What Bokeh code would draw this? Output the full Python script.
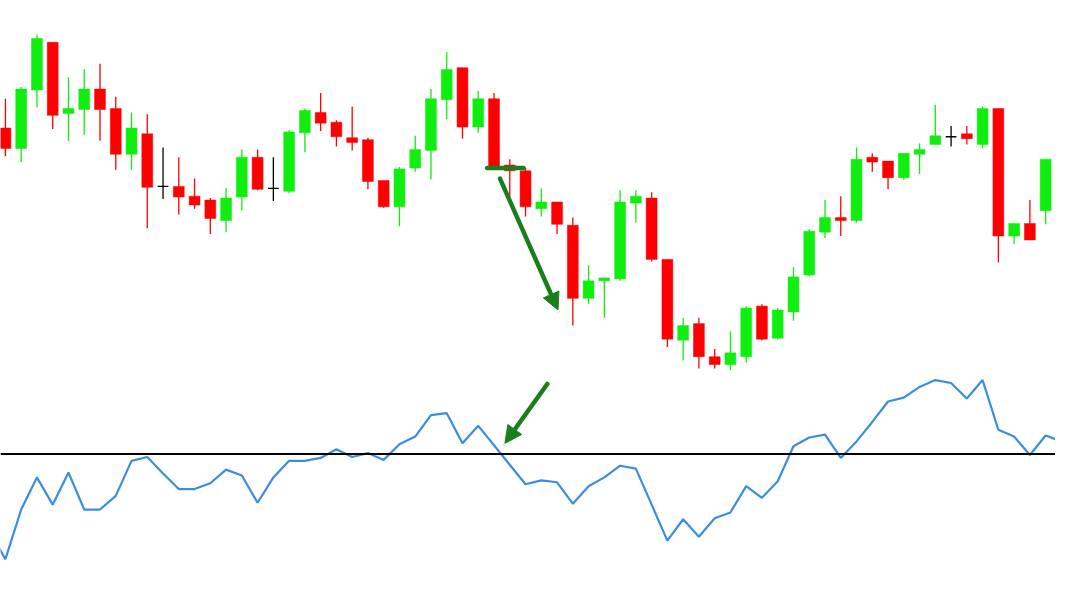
from bokeh.plotting import figure
from bokeh.models import ColumnDataSource, Range1d, Span, Arrow, NormalHead
from bokeh.embed import file_html
from bokeh.resources import INLINE

# ---- price data (one candle per bar) ----
opens = [1.3169, 1.3148, 1.3208, 1.3257, 1.3184, 1.3188, 1.3209, 1.3189, 1.3142, 1.3163,
         1.3109, 1.3109, 1.3099, 1.3095, 1.3074, 1.3098, 1.3139, 1.3107, 1.3104, 1.3164,
         1.3185, 1.3175, 1.3159, 1.3157, 1.3115, 1.3088, 1.3128, 1.3146, 1.3198, 1.3231,
         1.3170, 1.3199, 1.3131, 1.3125, 1.3086, 1.3093, 1.3069, 1.2994, 1.3012, 1.3014,
         1.3092, 1.3097, 1.3034, 1.2951, 1.2968, 1.2934, 1.2926, 1.2934, 1.2986, 1.2953,
         1.2980, 1.3018, 1.3062, 1.3077, 1.3074, 1.3139, 1.3135, 1.3118, 1.3142, 1.3152,
         1.3160, 1.3163, 1.3152, 1.3189, 1.3058, 1.3071, 1.3084]
highs = [1.3199, 1.3211, 1.3265, 1.3257, 1.3221, 1.3229, 1.3235, 1.3201, 1.3185, 1.3183,
         1.3149, 1.3139, 1.3117, 1.3097, 1.3107, 1.3147, 1.3147, 1.3139, 1.3167, 1.3189,
         1.3205, 1.3177, 1.3191, 1.3159, 1.3115, 1.3129, 1.3161, 1.3209, 1.3247, 1.3231,
         1.3207, 1.3205, 1.3137, 1.3128, 1.3107, 1.3093, 1.3077, 1.3028, 1.3015, 1.3105,
         1.3105, 1.3103, 1.3034, 1.2974, 1.2974, 1.2942, 1.2960, 1.2986, 1.2988, 1.2984,
         1.3026, 1.3065, 1.3095, 1.3099, 1.3149, 1.3143, 1.3135, 1.3143, 1.3153, 1.3193,
         1.3171, 1.3171, 1.3191, 1.3189, 1.3071, 1.3095, 1.3137]
lows = [1.3140, 1.3134, 1.3190, 1.3168, 1.3156, 1.3162, 1.3156, 1.3126, 1.3126, 1.3066,
        1.3096, 1.3080, 1.3086, 1.3060, 1.3062, 1.3084, 1.3105, 1.3094, 1.3102, 1.3144,
        1.3166, 1.3150, 1.3146, 1.3106, 1.3087, 1.3068, 1.3124, 1.3116, 1.3178, 1.3158,
        1.3164, 1.3129, 1.3098, 1.3078, 1.3078, 1.3060, 1.2966, 1.2988, 1.2974, 1.3012,
        1.3072, 1.3032, 1.2944, 1.2930, 1.2922, 1.2922, 1.2920, 1.2928, 1.2951, 1.2952,
        1.2971, 1.3017, 1.3056, 1.3058, 1.3072, 1.3124, 1.3106, 1.3116, 1.3122, 1.3152,
        1.3150, 1.3152, 1.3148, 1.3031, 1.3050, 1.3054, 1.3070]
closes = [1.3148, 1.3209, 1.3261, 1.3182, 1.3189, 1.3209, 1.3188, 1.3142, 1.3169, 1.3108,
          1.3109, 1.3098, 1.3090, 1.3076, 1.3097, 1.3139, 1.3106, 1.3107, 1.3165, 1.3187,
          1.3174, 1.3160, 1.3154, 1.3114, 1.3088, 1.3127, 1.3147, 1.3199, 1.3229, 1.3170,
          1.3199, 1.3130, 1.3125, 1.3088, 1.3093, 1.3070, 1.2994, 1.3012, 1.3015, 1.3093,
          1.3099, 1.3034, 1.2952, 1.2966, 1.2934, 1.2926, 1.2938, 1.2984, 1.2952, 1.2982,
          1.3016, 1.3063, 1.3077, 1.3074, 1.3137, 1.3134, 1.3118, 1.3143, 1.3147, 1.3161,
          1.3160, 1.3158, 1.3189, 1.3058, 1.3071, 1.3054, 1.3137]

# ---- momentum indicator (bars -1 .. 67) ----
mom_start = -1
momentum = [99.21, 98.92, 99.43, 99.76, 99.48, 99.81, 99.43, 99.43, 99.57, 99.93,
            99.97, 99.80, 99.64, 99.64, 99.70, 99.84, 99.78, 99.50, 99.76, 99.93,
            99.93, 99.96, 100.05, 99.97, 100.01, 99.94, 100.10, 100.18, 100.40, 100.42,
            100.11, 100.29, 100.09, 99.89, 99.69, 99.73, 99.71, 99.49, 99.67, 99.76,
            99.88, 99.85, 99.48, 99.11, 99.33, 99.15, 99.34, 99.40, 99.67, 99.55,
            99.72, 100.08, 100.17, 100.20, 99.96, 100.13, 100.33, 100.54, 100.58, 100.69,
            100.76, 100.73, 100.57, 100.76, 100.25, 100.18, 99.99, 100.19, 100.13]
mom_level = 100.0

# ---- annotation anchors (bar index, value) ----
support_line = dict(x0=30.56, x1=32.88, y=1.3128)
price_arrow = dict(x0=31.38, y0=1.3117, x1=35.06, y1=1.2982)
mom_arrow = dict(x0=34.38, y0=100.72, x1=31.69, y1=100.11)

UP = "#10ee10"
DOWN = "#ff0000"
DOJI = "#000000"
ARROW = "#1a7f1a"
LINE = "#3a8ede"

n = len(opens)
idx = list(range(n))
colors, tops, bots = [], [], []
for o, c in zip(opens, closes):
    colors.append(UP if c > o else (DOWN if c < o else DOJI))
    tops.append(max(o, c))
    bots.append(min(o, c))

src = ColumnDataSource(dict(x=idx, o=opens, h=highs, l=lows, c=closes,
                            top=tops, bot=bots, color=colors))
doji_i = [i for i in idx if opens[i] == closes[i]]
body_i = [i for i in idx if opens[i] != closes[i]]
bsrc = ColumnDataSource(dict(x=[idx[i] for i in body_i], top=[tops[i] for i in body_i],
                             bot=[bots[i] for i in body_i], color=[colors[i] for i in body_i]))
dsrc = ColumnDataSource(dict(x0=[i - 0.34 for i in doji_i], x1=[i + 0.34 for i in doji_i],
                             y=[opens[i] for i in doji_i]))

p = figure(width=1055, height=583, output_backend="svg", toolbar_location=None,
           x_range=Range1d(-0.3125, 66.625), y_range=Range1d(1.2701, 1.3300),
           x_axis_type=None, y_axis_type=None, min_border=0,
           background_fill_color="white", border_fill_color="white")
p.outline_line_color = None
p.grid.visible = False
p.extra_y_ranges = {"mom": Range1d(98.67, 104.66)}

# wicks
p.segment(x0="x", y0="l", x1="x", y1="h", color="color", line_width=1.3, source=src)
# bodies
p.vbar(x="x", width=0.69, top="top", bottom="bot", fill_color="color",
       line_color="color", line_width=0.5, source=bsrc)
# doji ticks
p.segment(x0="x0", y0="y", x1="x1", y1="y", color=DOJI, line_width=1.3, source=dsrc)

# momentum line
mx = [mom_start + k for k in range(len(momentum))]
p.line(mx, momentum, y_range_name="mom", line_color=LINE, line_width=2.2)
p.add_layout(Span(location=mom_level, dimension="width", y_range_name="mom",
                  line_color="black", line_width=2))

# annotations
p.segment(x0=[support_line["x0"]], y0=[support_line["y"]], x1=[support_line["x1"]],
          y1=[support_line["y"]], line_color=ARROW, line_width=4.5, line_cap="round")
for a, rng in ((price_arrow, "default"), (mom_arrow, "mom")):
    p.add_layout(Arrow(x_start=a["x0"], y_start=a["y0"], x_end=a["x1"], y_end=a["y1"],
                       y_range_name=rng, line_color=ARROW, line_width=4.5, line_cap="round",
                       end=NormalHead(size=17, fill_color=ARROW, line_color=ARROW,
                                      line_width=1)))

open("out.html", "w").write(file_html(p, INLINE))
